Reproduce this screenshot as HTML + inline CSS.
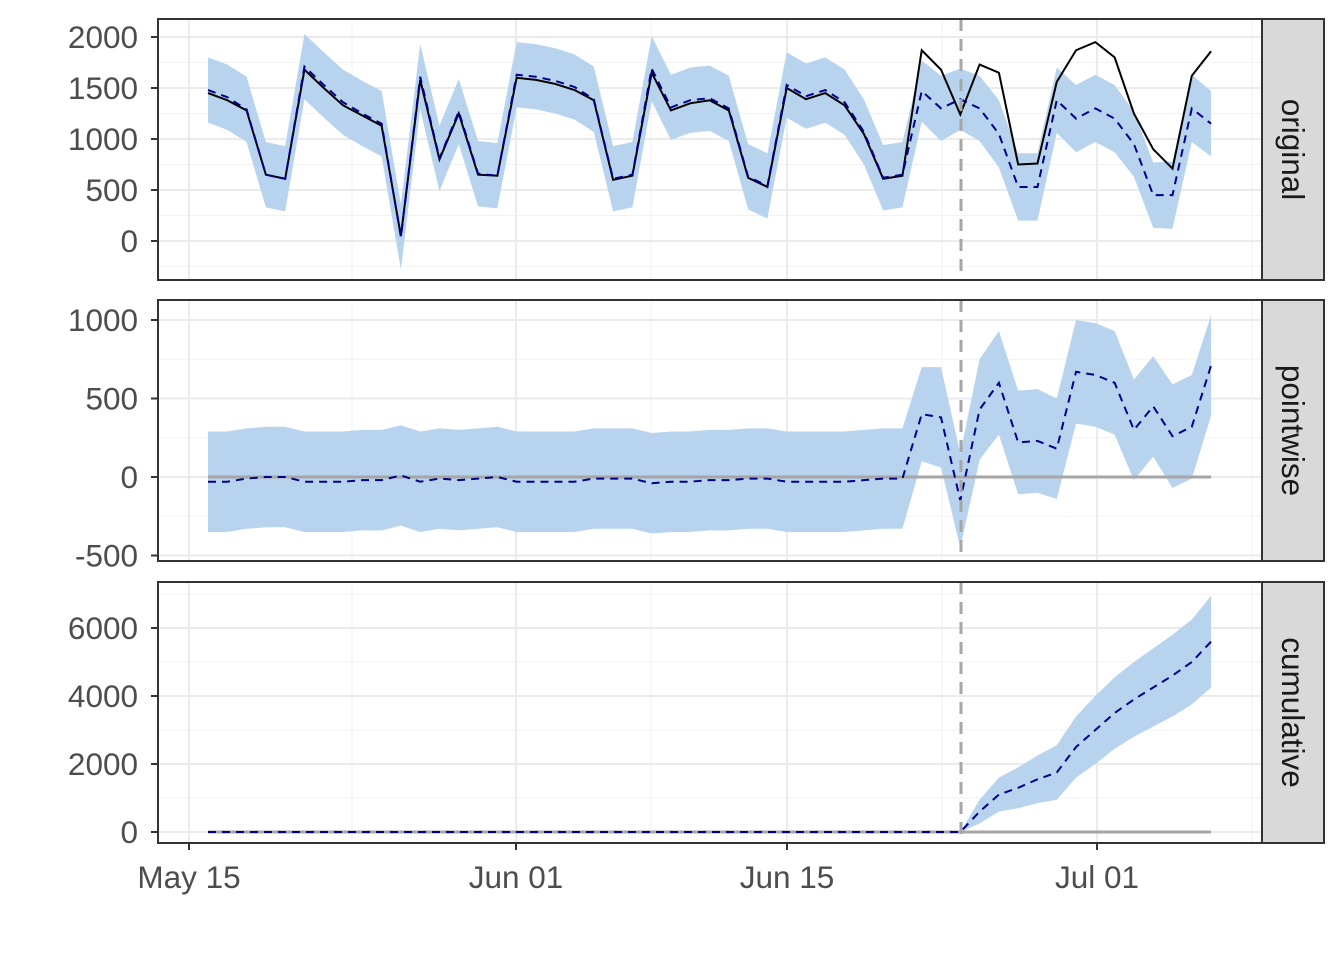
<!DOCTYPE html>
<html><head><meta charset="utf-8"><style>body{margin:0;background:#fff}svg{display:block}text{font-family:"Liberation Sans",sans-serif}</style></head>
<body><svg id="s" width="1344" height="960" xmlns="http://www.w3.org/2000/svg"></svg>
<script>
const S=document.getElementById('s');let h='';
const X0=208,DX=19.29,L=158,R=1262;
const xs=i=>X0+i*DX;
const act=[1450,1380,1280,650,610,1680,1500,1330,1230,1130,50,1580,800,1250,650,640,1600,1580,1540,1480,1380,600,640,1650,1280,1350,1380,1280,620,530,1500,1390,1450,1330,1050,610,640,1870,1680,1240,1730,1650,750,760,1560,1870,1950,1800,1250,900,710,1620,1860];
const pw=[-30,-30,-10,0,0,-30,-30,-30,-20,-20,10,-30,-10,-20,-10,0,-30,-30,-30,-30,-10,-10,-10,-40,-30,-30,-20,-20,-10,-10,-30,-30,-30,-30,-20,-10,-10,400,380,-150,430,600,220,230,180,670,650,600,300,450,260,320,710];
const pred=act.map((a,i)=>a-pw[i]);
const pwHalf=pw.map((v,i)=>i<37?320:[300,320,300,320,330,330,330,320,330,330,330,320,320,330,330,320][i-37]);
const cum=[],cumH=[];
const cumRead=[0,600,1100,1300,1550,1750,2500,3000,3500,3900,4250,4600,5000,5600];
const cumHr=[0,350,500,600,700,800,900,1000,1050,1100,1150,1200,1250,1350];
for(let i=0;i<53;i++){if(i<39){cum.push(0);cumH.push(0)}else{cum.push(cumRead[i-39]);cumH.push(cumHr[i-39])}}
function panel(top,bot,yf,majors,minors,lo,hi,line,dash,zero,strip){
 h+=`<rect x="${L}" y="${top}" width="${R-L}" height="${bot-top}" fill="#fff"/>`;
 for(const v of minors)h+=`<line x1="${L}" x2="${R}" y1="${yf(v)}" y2="${yf(v)}" stroke="#f2f2f2" stroke-width="1"/>`;
 for(const x of [352,651,942,1252])h+=`<line x1="${x}" x2="${x}" y1="${top}" y2="${bot}" stroke="#f2f2f2" stroke-width="1"/>`;
 for(const v of majors){h+=`<line x1="${L}" x2="${R}" y1="${yf(v)}" y2="${yf(v)}" stroke="#ebebeb" stroke-width="2"/>`;
  h+=`<line x1="${L-7}" x2="${L}" y1="${yf(v)}" y2="${yf(v)}" stroke="#333" stroke-width="2"/>`;
  h+=`<text x="${L-20}" y="${yf(v)+11}" font-size="31.5" fill="#4d4d4d" text-anchor="end">${v}</text>`;}
 for(const x of [189,516,787,1097])h+=`<line x1="${x}" x2="${x}" y1="${top}" y2="${bot}" stroke="#ebebeb" stroke-width="2"/>`;
 let p='';for(let i=0;i<53;i++)p+=`${xs(i)},${yf(hi[i])} `;for(let i=52;i>=0;i--)p+=`${xs(i)},${yf(lo[i])} `;
 h+=`<polygon points="${p}" fill="#b8d3ee"/>`;
 if(zero)h+=`<line x1="${xs(0)}" x2="${xs(52)}" y1="${yf(0)}" y2="${yf(0)}" stroke="#a6a6a6" stroke-width="3"/>`;
 if(line)h+=`<polyline points="${line.map((v,i)=>xs(i)+','+yf(v)).join(' ')}" fill="none" stroke="#000" stroke-width="2"/>`;
 h+=`<polyline points="${dash.map((v,i)=>xs(i)+','+yf(v)).join(' ')}" fill="none" stroke="#00008b" stroke-width="2" stroke-dasharray="8,6"/>`;
 h+=`<line x1="961" x2="961" y1="${top}" y2="${bot}" stroke="#a6a6a6" stroke-width="3" stroke-dasharray="12,8"/>`;
 h+=`<rect x="${L}" y="${top}" width="${R-L}" height="${bot-top}" fill="none" stroke="#333" stroke-width="2"/>`;
 h+=`<rect x="${R}" y="${top}" width="62" height="${bot-top}" fill="#d9d9d9" stroke="#333" stroke-width="2"/>`;
 const cy=(top+bot)/2;h+=`<text x="${R+31}" y="${cy}" font-size="31.5" fill="#1a1a1a" text-anchor="middle" transform="rotate(90 ${R+31} ${cy})" dy="11">${strip}</text>`;
}
const y1=v=>241-v*0.102,y2=v=>477-v*0.157,y3=v=>832-v*0.034;
panel(19,280,y1,[0,500,1000,1500,2000],[-250,250,750,1250,1750],pred.map((v,i)=>v-pwHalf[i]),pred.map((v,i)=>v+pwHalf[i]),act,pred,false,'original');
panel(300,561,y2,[-500,0,500,1000],[-250,250,750],pw.map((v,i)=>v-pwHalf[i]),pw.map((v,i)=>v+pwHalf[i]),null,pw,true,'pointwise');
panel(582,843,y3,[0,2000,4000,6000],[1000,3000,5000,7000],cum.map((v,i)=>v-cumH[i]),cum.map((v,i)=>v+cumH[i]),null,cum,true,'cumulative');
[[189,'May 15'],[516,'Jun 01'],[787,'Jun 15'],[1097,'Jul 01']].forEach(([x,t])=>{h+=`<line x1="${x}" x2="${x}" y1="843" y2="850" stroke="#333" stroke-width="2"/><text x="${x}" y="888" font-size="31.5" fill="#4d4d4d" text-anchor="middle">${t}</text>`});
S.innerHTML=h;
</script></body></html>
